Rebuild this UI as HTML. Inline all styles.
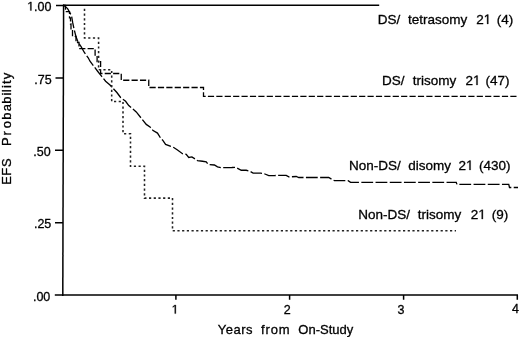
<!DOCTYPE html>
<html><head><meta charset="utf-8">
<style>
html,body{margin:0;padding:0;background:#fff;}
body{width:520px;height:337px;overflow:hidden;position:relative;}
svg{position:absolute;left:0;top:0;will-change:transform;}
text{font-family:"Liberation Sans",sans-serif;fill:#000;stroke:#000;stroke-width:0.3px;}
path.one{fill:#000;stroke:#000;}
</style></head>
<body>
<svg width="520" height="337" viewBox="0 0 520 337">
<g stroke="#000" stroke-width="1.5" fill="none" stroke-linecap="butt">
  <path d="M63.6 4.4 L62.8 295.9"/>
  <path d="M62 295.1 H518"/>
  <path d="M56 5.5 H63.5 M55.5 77.9 H63.3 M55 150.35 H63.1 M55 222.7 H63 M54.8 295.1 H63"/>
  <path d="M175.9 295 V299.7 M289.6 295 V299.7 M403.6 295 V299.7 M517.3 295 V299.7" stroke-width="1.5"/>
  <path d="M63 5.2 H379.2"/>
</g>
<path fill="none" stroke="#000" stroke-width="1.3" stroke-dasharray="6.2 2.2"
 d="M63.5 5.5 H65.5 V11.7 H69.5 V17.8 H70.5 V24 H71 V30.1 H72.5 V36.3 H76 V42.5 H79 V48.6 H95.1 V55 H97.1 V61.7 H100.6 V73.5 H121.25 V80.25 H148.75 V87.5 H203.5 V96.3 H518"/>
<path fill="none" stroke="#000" stroke-width="1.3" stroke-dasharray="11.8 2.4" d="M63.5 5.5 L64.5 5.8 L67.6 8.6 L70.1 13.1 L71.6 16.1 L72.6 22.2 L74.1 29.3 L76.1 37.1 L78.1 42.1 L81.1 46.7 L84.2 52.2 L88.2 57.8 L90 61.2 L97.6 71.25 L101.7 76.3 L105.6 81.25 L110 85 L116.9 92.5 L120.6 97.5 L125.6 101.25 L128.75 105.6 L132.5 108.75 L136.25 111.9 L146.25 124.4 L150 126.9 L153.1 130.6 L157.5 133.1 L160.6 138.1 L162.5 140 L165.6 144.4 L173.75 147.5 L177.5 150 L182.5 153.75 L186.25 154.4 L188.75 157.5 L191.9 156.9 L197.5 160.6 L202.5 161.25 L206.25 161.9 L208.1 164.4 L214.4 165 L217.5 166.9 L221.25 167.75 L231.9 167.5 L235.6 167.25 L241.25 170.25 L246.25 170.25 L250 171.25 L253.1 173.1 L260.6 173.1 L263.75 173.5 L268.75 175.6 L274.4 175.6 L277.5 175.4 L286.25 175.4 L288.75 176.9 L296.25 176.5 L298.75 177.5 L328.75 177.5 L331.9 179.4 L334.4 180.6 L348.1 180.6 L350.6 182.4 L456.25 182.4 L457 184.4 L508.75 184.4 L509.5 187.5 L518 187.5"/>
<path fill="none" stroke="#222" stroke-width="1.55" stroke-dasharray="2.2 2.5"
 d="M84.5 8.8 V38 H98.6 V69.8 H111.7 V101.5 H123 V133.75 H130.5 V166.25 H144.5 V198.1 H172.5 V230.8 H456"/>
<path class="one" d="M515 0V1237L197 1010V1180L530 1409H696V0Z" transform="translate(27.17,10.50) scale(0.006104,-0.006104)" stroke-width="49.2"/><text font-size="12.5" x="34.12" y="10.5">.00</text>
<g font-size="12.5" text-anchor="end">
  <text x="51.6" y="83.5">.75</text>
  <text x="50.7" y="155.6">.50</text>
  <text x="51.3" y="228.2">.25</text>
  <text x="50.3" y="300.8">.00</text>
</g>
<path class="one" d="M515 0V1237L197 1010V1180L530 1409H696V0Z" transform="translate(171.60,313.60) scale(0.006104,-0.006104)" stroke-width="49.2"/><g font-size="12.5" text-anchor="middle">
  <text x="287.2" y="313.5">2</text>
  <text x="401" y="313.5">3</text>
  <text x="515.5" y="312.9">4</text>
</g>
<g font-size="13">
  <text x="217.75" y="334" letter-spacing="0.5">Years</text>
  <text x="261" y="334" letter-spacing="0.9">from</text>
  <text x="298.3" y="334">On-Study</text>
</g>
<text transform="translate(10.5,185) rotate(-90)" font-size="13" x="0.2 9.2 18.1 38.9 49.6 56.7 65.3 73.7 81.2 89.5 92.8 97.0 101.1 105.8">EFSProbability</text>
<g font-size="13.5">
<path class="one" d="M515 0V1237L197 1010V1180L530 1409H696V0Z" transform="translate(483.71,23.90) scale(0.006592,-0.006592)" stroke-width="45.5"/><text y="23.9"><tspan x="377.8">DS/</tspan><tspan x="408">tetrasomy</tspan><tspan x="476.2">2</tspan><tspan x="496.7">(4)</tspan></text>
<path class="one" d="M515 0V1237L197 1010V1180L530 1409H696V0Z" transform="translate(473.01,84.90) scale(0.006592,-0.006592)" stroke-width="45.5"/><text y="84.9"><tspan x="382.1">DS/</tspan><tspan x="412.7">trisomy</tspan><tspan x="465.5">2</tspan><tspan x="485.6">(47)</tspan></text>
<path class="one" d="M515 0V1237L197 1010V1180L530 1409H696V0Z" transform="translate(466.01,169.90) scale(0.006592,-0.006592)" stroke-width="45.5"/><text y="169.9"><tspan x="348.9">Non-DS/</tspan><tspan x="408.3">disomy</tspan><tspan x="458.5">2</tspan><tspan x="479.1">(430)</tspan></text>
<path class="one" d="M515 0V1237L197 1010V1180L530 1409H696V0Z" transform="translate(478.31,219.00) scale(0.006592,-0.006592)" stroke-width="45.5"/><text y="219.0"><tspan x="358.3">Non-DS/</tspan><tspan x="417.8">trisomy</tspan><tspan x="470.8">2</tspan><tspan x="491.8">(9)</tspan></text>
</g>
</svg>
</body></html>
